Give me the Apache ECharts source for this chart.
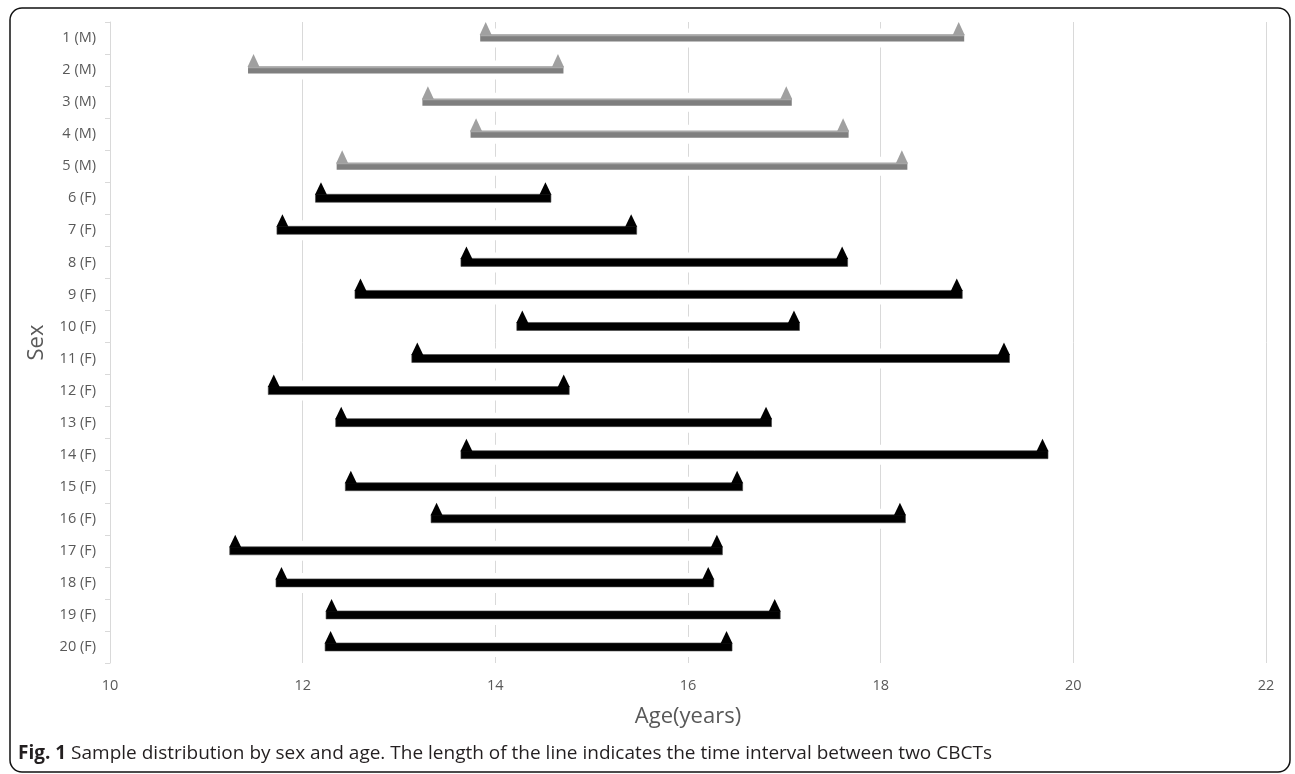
<!DOCTYPE html>
<html>
<head>
<meta charset="utf-8">
<script src="https://cdn.jsdelivr.net/npm/echarts@6/dist/echarts.min.js"></script>
<style>
  html, body { margin: 0; padding: 0; background: #fff; }
  #chart { width: 1295px; height: 774px; }
</style>
</head>
<body>
<div id="chart"></div>
<script>
// ---- data ----
const categories = ['1 (M)','2 (M)','3 (M)','4 (M)','5 (M)','6 (F)','7 (F)','8 (F)','9 (F)','10 (F)',
  '11 (F)','12 (F)','13 (F)','14 (F)','15 (F)','16 (F)','17 (F)','18 (F)','19 (F)','20 (F)'];
const sex = ['M','M','M','M','M','F','F','F','F','F','F','F','F','F','F','F','F','F','F','F'];
const firstScanAge = [13.90, 11.49, 13.30, 13.80, 12.41, 12.19, 11.79, 13.70, 12.60, 14.28,
  13.19, 11.70, 12.40, 13.70, 12.50, 13.39, 11.30, 11.78, 12.30, 12.29];
const secondScanAge = [18.81, 14.65, 17.02, 17.61, 18.22, 14.52, 15.41, 17.60, 18.79, 17.10,
  19.28, 14.71, 16.81, 19.68, 16.51, 18.20, 16.30, 16.21, 16.90, 16.40];
const xTicks = [10, 12, 14, 16, 18, 20, 22];

const seriesData = categories.map((c, i) => [firstScanAge[i], secondScanAge[i], i]);

const chart = echarts.init(document.getElementById('chart'));

function renderItem(params, api) {
  const idx = params.dataIndex;
  const s = api.coord([api.value(0), api.value(2)]);
  const e = api.coord([api.value(1), api.value(2)]);
  const cy = s[1];
  const male = sex[idx] === 'M';
  const h = male ? 7 : 8;
  const ext = 5.5;
  const barTop = cy - h / 2;
  const barColor = male ? '#7f7f7f' : '#000';
  const triColor = male ? '#a0a0a0' : '#000';
  const children = [];
  // white halo around the bar (breaks the gridlines where bars cross them)
  children.push({
    type: 'rect',
    shape: { x: s[0] - ext - 1, y: barTop - 6, width: e[0] - s[0] + 2 * ext + 2, height: h + 12 },
    style: { fill: '#fff' }
  });
  children.push({
    type: 'rect',
    shape: { x: s[0] - ext, y: barTop, width: e[0] - s[0] + 2 * ext, height: h },
    style: { fill: barColor, stroke: male ? null : '#444', lineWidth: male ? 0 : 0.6 }
  });
  if (male) {
    children.push({
      type: 'rect',
      shape: { x: s[0] - ext, y: barTop, width: e[0] - s[0] + 2 * ext, height: 1.6 },
      style: { fill: '#a8a8a8' }
    });
  }
  [s[0], e[0]].forEach(x => {
    children.push({
      type: 'polygon',
      shape: { points: [[x - ext - 0.5, barTop + 0.5], [x + ext + 0.5, barTop + 0.5], [x, cy - 16]] },
      style: { fill: triColor }
    });
  });
  return { type: 'group', children };
}

const option = {
  backgroundColor: '#fff',
  animation: false,
  grid: { left: 110, right: 29, top: 22, bottom: 111, containLabel: false },
  xAxis: {
    type: 'value',
    min: xTicks[0],
    max: xTicks[xTicks.length - 1],
    interval: 2,
    name: 'Age(years)',
    nameLocation: 'middle',
    nameGap: 43,
    nameTextStyle: { fontFamily: 'Open Sans', fontSize: 22, color: '#595959' },
    axisLine: { show: false },
    axisTick: { show: false },
    axisLabel: { margin: 15, fontFamily: 'Open Sans', fontSize: 14.5, color: '#595959' },
    splitLine: { show: true, lineStyle: { color: '#d9d9d9', width: 1 } }
  },
  yAxis: {
    type: 'category',
    data: categories,
    inverse: true,
    name: 'Sex',
    nameLocation: 'middle',
    nameGap: 62,
    nameRotate: 90,
    nameTextStyle: { fontFamily: 'Open Sans', fontSize: 22, color: '#595959' },
    axisLine: { show: true, lineStyle: { color: '#d9d9d9', width: 1 } },
    axisTick: { show: true, length: 5, lineStyle: { color: '#d9d9d9' } },
    axisLabel: { margin: 14, fontFamily: 'Open Sans', fontSize: 14.5, color: '#595959' },
    splitLine: { show: false }
  },
  series: [{
    type: 'custom',
    renderItem: renderItem,
    encode: { x: [0, 1], y: 2 },
    data: seriesData,
    clip: false
  }],
  graphic: [
    {
      type: 'rect',
      shape: { x: 10, y: 8, width: 1280, height: 764, r: 12 },
      style: { fill: 'none', stroke: '#111', lineWidth: 1.5 },
      z: 100
    },
    {
      type: 'text',
      x: 18,
      y: 754,
      style: {
        text: '{b|Fig. 1} Sample distribution by sex and age. The length of the line indicates the time interval between two CBCTs',
        fontFamily: 'Open Sans',
        fontSize: 19,
        fill: '#231f20',
        verticalAlign: 'middle',
        rich: {
          b: { fontFamily: 'Open Sans', fontSize: 19, fontWeight: 'bold', fill: '#231f20' }
        }
      }
    }
  ]
};
chart.setOption(option);
</script>
</body>
</html>
